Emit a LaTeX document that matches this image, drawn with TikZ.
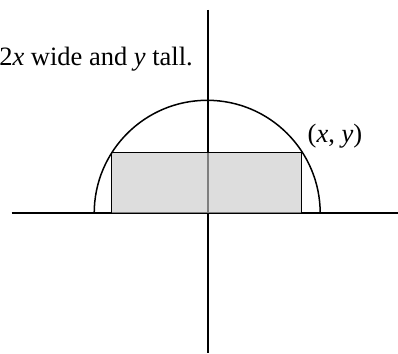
\documentclass[tikz,border=0pt]{standalone}
\usepackage{fontspec}
\setmainfont{Liberation Serif}
\begin{document}
\begin{tikzpicture}[x=1pt,y=1pt,
  axis/.style={line width=1.6pt},
  shape line/.style={line width=1.5pt},
  lbl/.style={inner sep=0pt,font=\fontsize{26.5}{31}\selectfont}]
\useasboundingbox (0,0) rectangle (398,353);
% axes
\coordinate (xl) at (11.7,139.7);
\coordinate (xr) at (398,139.7);
\coordinate (yt) at (207.7,343);
\coordinate (yb) at (207.7,0);
\draw[axis] (xl) -- (xr);
\draw[axis] (yt) -- (yb);
% rectangle
\coordinate (rbl) at (111.7,139.7);
\coordinate (rtr) at (301.7,200.7);
\fill[black!21,fill opacity=0.63] (rbl) rectangle (rtr);
\draw[shape line] (rbl) rectangle (rtr);
% semicircle
\draw[shape line] (94.2,139.7) arc[start angle=180,end angle=0,radius=113];
% labels
\node[lbl,anchor=base east] (cap) at (193,287.5) {2\textit{x} wide and \textit{y} tall.};
\node[lbl,anchor=base west] (pt) at (307.5,210) {(\textit{x}, \textit{y})};
\end{tikzpicture}
\end{document}
